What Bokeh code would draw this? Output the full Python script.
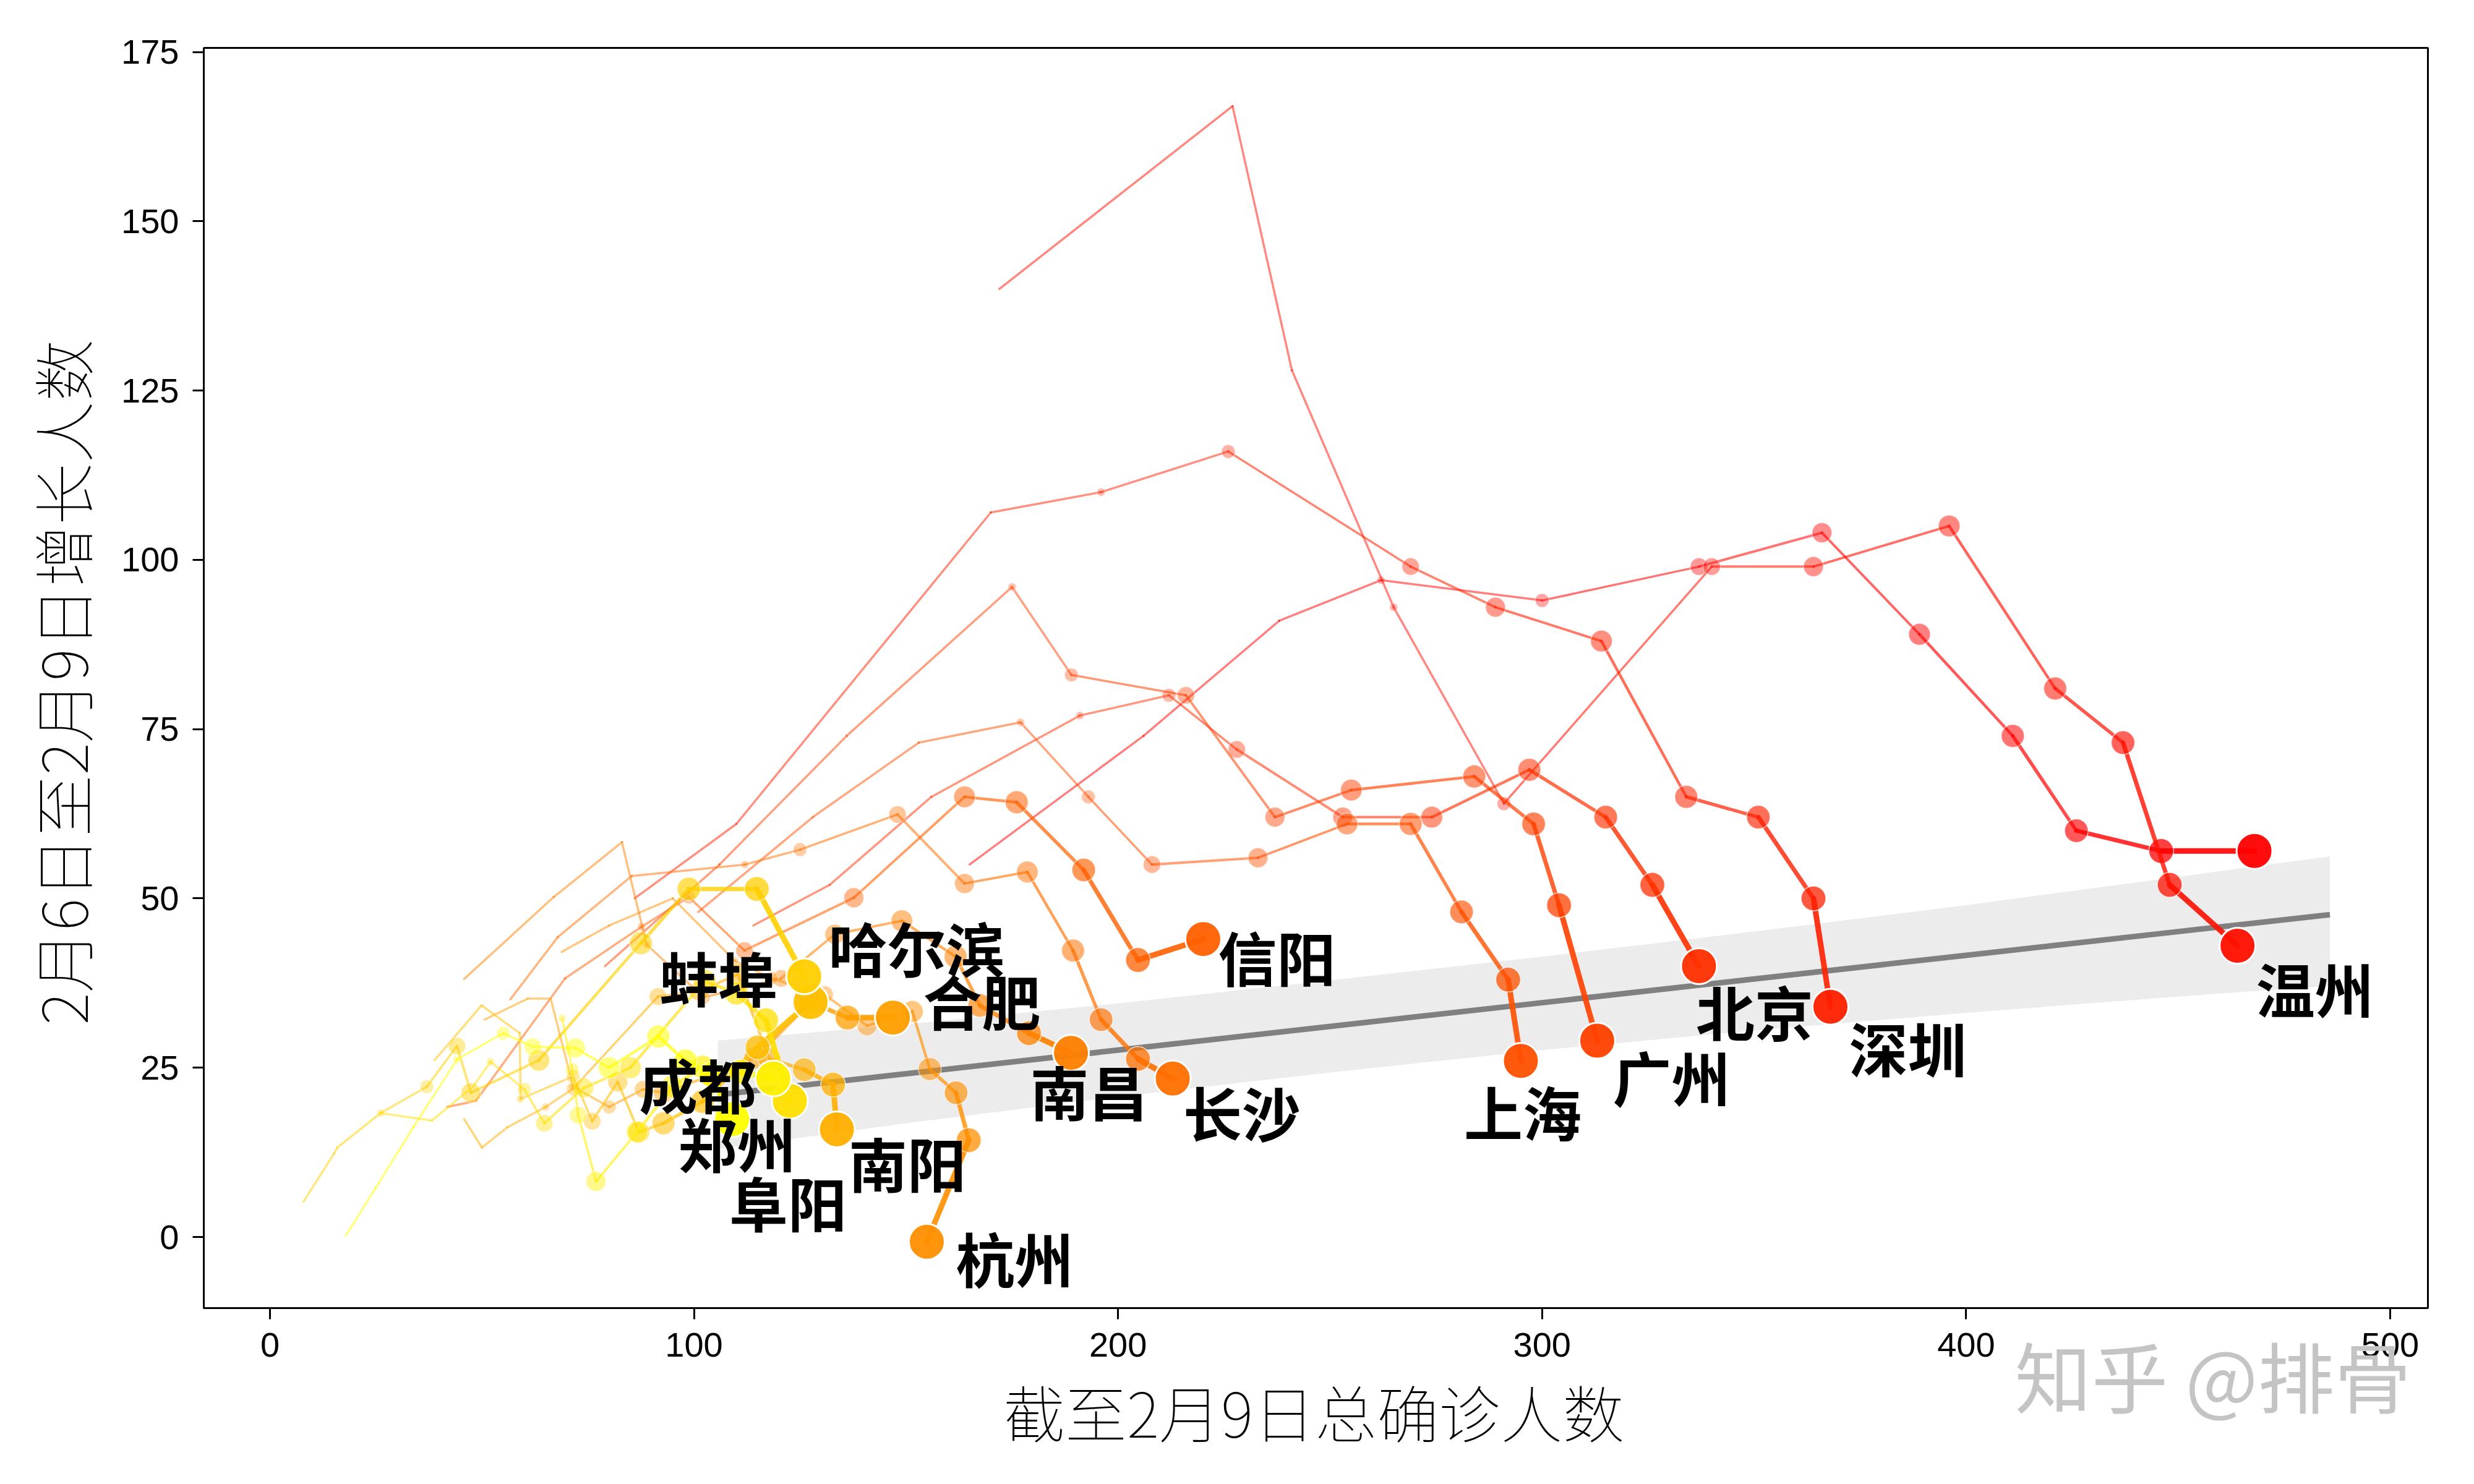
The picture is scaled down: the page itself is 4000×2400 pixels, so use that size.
from bokeh.plotting import figure
from bokeh.models import ColumnDataSource, FixedTicker, Title
from bokeh.embed import file_html
from bokeh.resources import INLINE
from bokeh.core.properties import value

# ---- trajectories: cumulative confirmed (x) vs 3-day increase (y), Jan 29 - Feb 9 ----
chongqing_x = [165, 206, 238, 262, 300, 337, 366, 389, 411, 426, 446, 468]
chongqing_y = [55, 74, 91, 97, 94, 99, 104, 89, 74, 60, 57, 57]
wenzhou_x = [172, 227, 241, 265, 291, 340, 364, 396, 421, 437, 448, 464]
wenzhou_y = [140, 167, 128, 93, 64, 99, 99, 105, 81, 73, 52, 43]
shenzhen_x = [86, 110, 170, 196, 226, 269, 289, 314, 334, 351, 364, 368]
shenzhen_y = [50, 61, 107, 110, 116, 99, 93, 88, 65, 62, 50, 34]
beijing_x = [114, 132, 156, 191, 212, 228, 253, 274, 297, 315, 326, 337]
beijing_y = [46, 52, 65, 77, 80, 72, 62, 62, 69, 62, 52, 40]
guangzhou_x = [79, 106, 136, 175, 189, 216, 237, 255, 284, 298, 304, 313]
guangzhou_y = [40, 55, 74, 96, 83, 80, 62, 66, 68, 61, 49, 29]
shanghai_x = [101, 128, 153, 177, 193, 208, 233, 254, 269, 281, 292, 295]
shanghai_y = [48, 62, 73, 76, 65, 55, 56, 61, 61, 48, 38, 26]
xinyang_x = [41.8, 48.6, 69.6, 87.6, 98.8, 111.9, 137.7, 163.8, 176.1, 191.9, 204.7, 220.1]
xinyang_y = [19.2, 20.1, 38.2, 45.8, 50.2, 42.3, 50.1, 65.0, 64.2, 54.2, 40.9, 44.0]
changsha_x = [56.7, 67.9, 85.3, 112.0, 125.0, 148.0, 163.8, 178.6, 189.4, 196.0, 204.7, 212.9]
changsha_y = [35.1, 44.3, 53.3, 55.0, 57.2, 62.4, 52.2, 53.9, 42.3, 32.1, 26.3, 23.4]
nanchang_x = [45.8, 66.9, 83.0, 88.8, 102.3, 120.6, 133.2, 149.0, 161.7, 167.4, 179.0, 188.9]
nanchang_y = [38.1, 50.2, 58.3, 43.2, 35.4, 38.2, 44.7, 46.7, 41.4, 34.2, 30.1, 27.2]
hangzhou_x = [68.8, 80.0, 95.0, 109.6, 118.2, 130.8, 140.8, 151.5, 155.6, 161.8, 164.8, 154.9]
hangzhou_y = [42.1, 46.0, 50.0, 40.8, 38.2, 35.8, 31.2, 33.3, 24.8, 21.3, 14.3, -0.7]
hefei_x = [50.6, 60.8, 66.2, 71.5, 80.0, 88.0, 92.8, 103.8, 114.5, 127.5, 136.2, 146.9]
hefei_y = [32.1, 35.2, 35.2, 22.2, 19.2, 21.8, 21.3, 23.8, 26.5, 34.7, 32.4, 32.4]
nanyang_x = [45.8, 50.0, 56.0, 65.0, 71.5, 91.5, 101.3, 110.3, 117.8, 126.0, 132.8, 133.7]
nanyang_y = [17.4, 13.2, 16.2, 19.2, 21.9, 35.5, 36.3, 38.8, 26.3, 24.7, 22.5, 15.9]
haerbin_x = [38.8, 49.9, 58.9, 59.1, 71.5, 76.0, 82.0, 87.0, 92.8, 102.0, 115.0, 127.5]
haerbin_y = [26.1, 34.2, 30.1, 20.4, 23.7, 17.1, 22.9, 15.5, 16.8, 20.0, 28.0, 34.7]
bengbu_x = [7.9, 15.1, 15.9, 26.1, 37.0, 44.1, 47.4, 63.4, 87.5, 98.8, 114.8, 126.0]
bengbu_y = [5.2, 12.3, 13.2, 18.3, 22.2, 28.2, 21.3, 26.1, 43.4, 51.4, 51.4, 38.5]
fuyang_x = [26.1, 38.2, 47.9, 52.0, 60.0, 64.7, 74.0, 85.0, 102.5, 110.0, 117.0, 122.6]
fuyang_y = [18.3, 17.2, 22.2, 25.9, 21.8, 16.8, 22.0, 25.0, 37.8, 36.0, 32.0, 20.1]
chengdu_x = [68.9, 71.3, 72.7, 76.9, 86.6, 94.9, 102.0, 111.0, 118.7]
chengdu_y = [32.3, 24.7, 18.0, 8.2, 15.5, 22.2, 25.1, 24.4, 23.4]
zhengzhou_x = [17.9, 24.9, 33.9, 44.1, 55.0, 62.0, 72.0, 80.0, 91.6, 98.0, 104.0, 109.0]
zhengzhou_y = [0.2, 7.2, 16.3, 26.2, 30.1, 28.1, 27.9, 25.0, 29.6, 26.0, 24.0, 17.4]

# ordered from the largest Feb 9 total down
city_names = ["重庆", "温州", "深圳", "北京", "广州", "上海", "信阳", "长沙", "南昌",
              "杭州", "合肥", "南阳", "哈尔滨", "蚌埠", "阜阳", "成都", "郑州"]
city_x = [chongqing_x, wenzhou_x, shenzhen_x, beijing_x, guangzhou_x, shanghai_x, xinyang_x,
          changsha_x, nanchang_x, hangzhou_x, hefei_x, nanyang_x, haerbin_x, bengbu_x,
          fuyang_x, chengdu_x, zhengzhou_x]
city_y = [chongqing_y, wenzhou_y, shenzhen_y, beijing_y, guangzhou_y, shanghai_y, xinyang_y,
          changsha_y, nanchang_y, hangzhou_y, hefei_y, nanyang_y, haerbin_y, bengbu_y,
          fuyang_y, chengdu_y, zhengzhou_y]
# autumn colour ramp, red for the largest total to yellow for the smallest
city_colors = ["#ff0000", "#ff1000", "#ff2000", "#ff3000", "#ff4000", "#ff5000", "#ff6000",
               "#ff7000", "#ff8000", "#ff8f00", "#ff9f00", "#ffaf00", "#ffbf00", "#ffcf00",
               "#ffdf00", "#ffef00", "#ffff00"]
show_label = [False] + [True] * 16
# label offsets in screen pixels from the last point (text top-left corner)
label_dx = [0, 30, 30, -5, 25, -92, 24, 17, -66, 47, 49, 19, 29, -234, -98, -217, -87]
label_dy = [0, -1, -3, 4, -11, 12, -41, -15, -8, -43, -97, -15, -158, -68, 95, -60, -31]

# styling per day (aligned to the last day)
seg_width = [3.5, 3.5, 3.5, 3.5, 3.5, 4, 4, 4.5, 5.5, 7, 9]
seg_alpha = [0.5, 0.5, 0.5, 0.5, 0.55, 0.55, 0.6, 0.65, 0.7, 0.8, 0.9]
dot_size = [0, 0, 5, 13, 22, 28, 32, 35, 37, 38, 40, 58]
dot_alpha = [0.2, 0.2, 0.25, 0.3, 0.35, 0.4, 0.45, 0.5, 0.55, 0.65, 0.75, 0.95]

# regression of the Feb 9 values with its confidence band
fit_x = [105.6, 150, 200, 250, 300, 350, 400, 450, 485.8]
fit_y = [21.0, 24.1, 27.6, 31.1, 34.6, 38.1, 41.6, 45.1, 47.6]
fit_lo = [13.0, 16.8, 20.7, 24.3, 27.6, 30.5, 33.1, 35.5, 37.1]
fit_hi = [29.0, 31.4, 34.5, 37.9, 41.4, 45.1, 49.0, 53.2, 56.2]

p = figure(frame_width=3596, frame_height=2038, x_range=(-15.6, 508.9), y_range=(-10.5, 175.6),
           output_backend="svg", toolbar_location=None,
           min_border_left=329, min_border_right=75, min_border_top=77, min_border_bottom=285)
p.xgrid.visible = False
p.ygrid.visible = False
p.outline_line_color = "black"
p.outline_line_width = 3
p.background_fill_color = "white"

p.varea(x=fit_x, y1=fit_lo, y2=fit_hi, fill_color="#808080", fill_alpha=0.15)
p.line(x=fit_x, y=fit_y, line_color="#808080", line_width=9)

for name, xs, ys, col in zip(city_names, city_x, city_y, city_colors):
    n = len(xs)
    seg = dict(x0=[], y0=[], x1=[], y1=[], w=[], a=[])
    for i in range(n - 1):
        k = len(seg_width) - (n - 1 - i)
        seg["x0"].append(xs[i]); seg["y0"].append(ys[i])
        seg["x1"].append(xs[i + 1]); seg["y1"].append(ys[i + 1])
        seg["w"].append(seg_width[k]); seg["a"].append(seg_alpha[k])
    p.segment(x0="x0", y0="y0", x1="x1", y1="y1", line_width="w", line_alpha="a",
              line_color=col, line_cap="round", source=ColumnDataSource(seg))
    dots = dict(x=[], y=[], s=[], a=[])
    for j in range(n - 1):
        k = len(dot_size) - (n - j)
        dots["x"].append(xs[j]); dots["y"].append(ys[j])
        dots["s"].append(dot_size[k]); dots["a"].append(dot_alpha[k])
    p.scatter(x="x", y="y", size="s", fill_alpha="a", fill_color=col, line_color="white",
              line_alpha="a", line_width=1.5, source=ColumnDataSource(dots))
    p.scatter(x=[xs[-1]], y=[ys[-1]], size=dot_size[-1], fill_color=col, fill_alpha=dot_alpha[-1],
              line_color="white", line_width=3)

for name, xs, ys, dx, dy, show in zip(city_names, city_x, city_y, label_dx, label_dy, show_label):
    if show:
        p.text(x=[xs[-1]], y=[ys[-1]], text=[name], x_offset=dx, y_offset=dy,
               text_font=value("Noto Sans CJK SC"), text_font_style="bold",
               text_font_size="95px", text_color="black", text_align="left", text_baseline="top")

for ax in (p.xaxis[0], p.yaxis[0]):
    ax.axis_line_width = 3
    ax.major_tick_line_width = 3
    ax.major_tick_out = 18
    ax.major_tick_in = 0
    ax.minor_tick_out = 0
    ax.minor_tick_in = 0
    ax.major_label_text_font = "Liberation Sans"
    ax.major_label_text_font_size = "56px"
    ax.major_label_text_color = "black"
    ax.axis_label_text_font = "Noto Sans CJK SC"
    ax.axis_label_text_font_size = "100px"
    ax.axis_label_text_font_style = "normal"
    ax.axis_label_text_color = "black"

p.xaxis.ticker = FixedTicker(ticks=[0, 100, 200, 300, 400, 500])
p.yaxis.ticker = FixedTicker(ticks=[0, 25, 50, 75, 100, 125, 150, 175])
p.xaxis.axis_label = "截至2月9日总确诊人数"
p.yaxis.axis_label = "2月6日至2月9日增长人数"
p.xaxis.major_label_standoff = 22
p.yaxis.major_label_standoff = 22
p.xaxis.axis_label_standoff = 12
p.yaxis.axis_label_standoff = 22

# site watermark in the bottom margin, right side
p.add_layout(Title(text="知乎 @排骨", align="right", vertical_align="top", offset=27, standoff=-450,
                   text_font="Noto Sans CJK SC", text_font_size="124px",
                   text_font_style="normal", text_color="#c4c4c4"), "below")

open("out.html", "w").write(file_html(p, INLINE))
